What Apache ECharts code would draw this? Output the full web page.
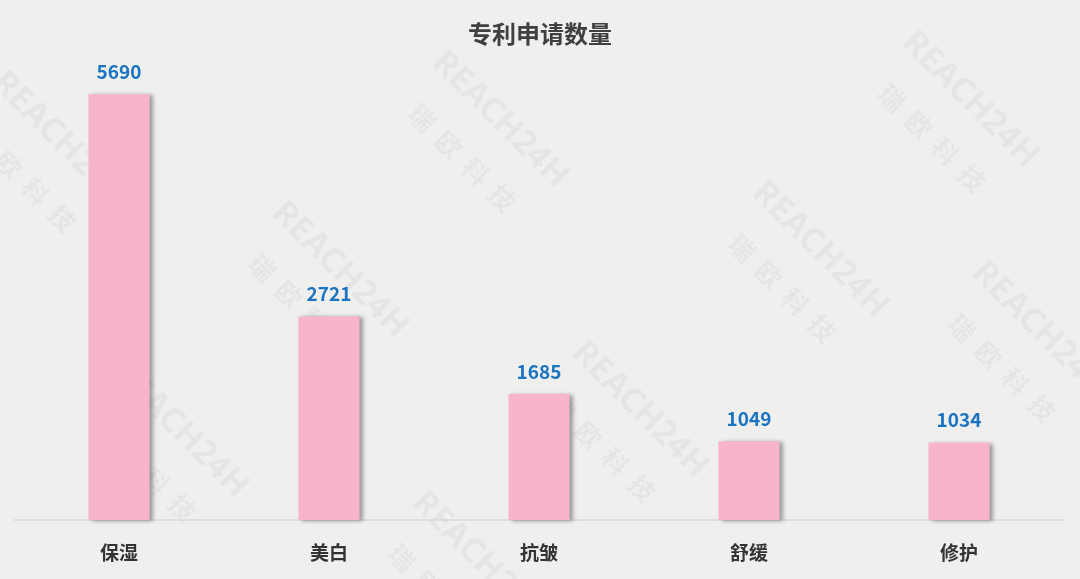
<!DOCTYPE html>
<html><head><meta charset="utf-8">
<script src="https://cdn.jsdelivr.net/npm/echarts@6/dist/echarts.min.js"></script>
<style>html,body{margin:0;padding:0;background:#efefed}#c{width:1080px;height:579px}</style>
</head><body><div id="c"></div>
<script>
var categories = ['保湿','美白','抗皱','舒缓','修护'];
var values = [5690, 2721, 1685, 1049, 1034];
var watermarkCenters = [[60,140],[340,270],[640,410],[820,250],[970,100],[500,120],[180,430],[480,560],[1040,330]];
var chart = echarts.init(document.getElementById('c'));
var graphics = [];
watermarkCenters.forEach(function(p){
  graphics.push({type:'text', x:p[0], y:p[1], rotation:-Math.PI/4, z:-10, silent:true,
    style:{text:'REACH24H', fill:'rgba(0,0,0,0.04)', font:'bold 34px "Noto Sans"', align:'center', verticalAlign:'middle'}});
  graphics.push({type:'text', x:p[0]-38, y:p[1]+38, rotation:-Math.PI/4, z:-10, silent:true,
    style:{text:'瑞  欧  科  技', fill:'rgba(0,0,0,0.04)', font:'bold 26px "Noto Sans CJK SC"', align:'center', verticalAlign:'middle'}});
});
chart.setOption({
  backgroundColor:'#efefed',
  title:{text:'专利申请数量', left:'center', top:17,
    textStyle:{fontFamily:'"Noto Sans CJK SC"', fontSize:24, fontWeight:'bold', color:'#404040'}},
  graphic: graphics,
  grid:{left:14, right:16, top:71, bottom:59},
  xAxis:{type:'category', data:categories,
    axisLine:{lineStyle:{color:'#d9d9d9', width:1.5}}, axisTick:{show:false},
    axisLabel:{margin:23, fontFamily:'"Noto Sans CJK SC"', fontSize:19, fontWeight:'bold', color:'#333'}},
  yAxis:{type:'value', min:0, max:6000, show:false, splitLine:{show:false}},
  series:[{type:'bar', data:values, barWidth:61,
    itemStyle:{color:'#f8b4cb', shadowColor:'rgba(0,0,0,0.35)', shadowBlur:4, shadowOffsetX:3, shadowOffsetY:1},
    label:{show:true, position:'top', distance:13, fontFamily:'"Noto Sans CJK SC"', fontSize:19, fontWeight:'bold', color:'#1a74c2'}}]
});
</script></body></html>
